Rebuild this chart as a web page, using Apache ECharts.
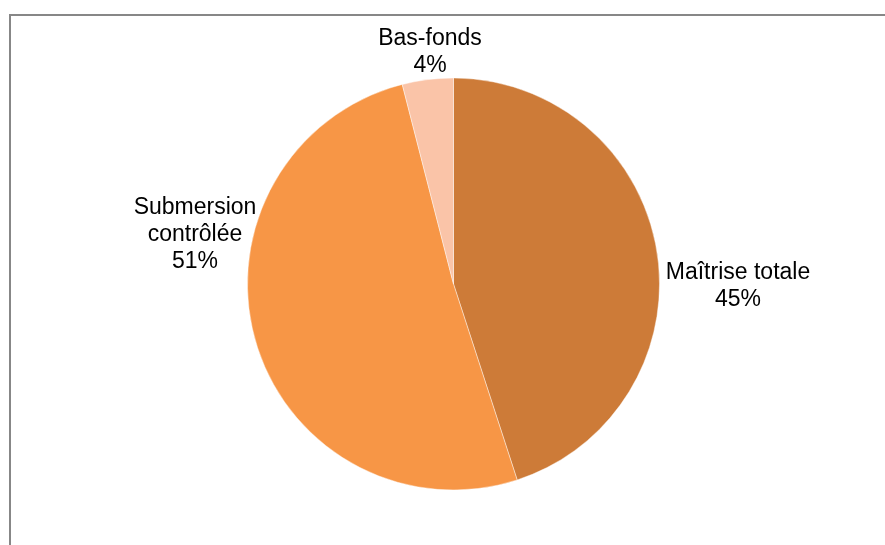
<!DOCTYPE html>
<html>
<head>
<meta charset="utf-8">
<script src="https://cdn.jsdelivr.net/npm/echarts@6/dist/echarts.min.js"></script>
<style>
  html, body { margin: 0; padding: 0; background: #fff; }
  #chart { width: 885px; height: 545px; }
</style>
</head>
<body>
<div id="chart"></div>
<script>
const categories = ['Maîtrise totale', 'Submersion\ncontrôlée', 'Bas-fonds']
const values = [45, 51, 4]
const colors = ['#CD7B38', '#F79646', '#FAC4A8']

// label centres, Excel-style placement
const labelSpots = [[738, 286], [195, 235], [430, 52]]

const chart = echarts.init(document.getElementById('chart'), null, { renderer: 'canvas' })

chart.setOption({
  animation: false,
  graphic: [{
    type: 'rect',
    shape: { x: 10, y: 15, width: 1000, height: 700 },
    style: { fill: 'none', stroke: '#878787', lineWidth: 2 },
    z: -1,
  }],
  series: [{
    type: 'pie',
    center: [453.5, 284],
    radius: 206,
    startAngle: 90,
    clockwise: true,
    data: categories.map((c, i) => ({
      name: c,
      value: values[i],
      itemStyle: { color: colors[i] },
    })),
    itemStyle: { borderColor: 'rgba(255,255,255,0.7)', borderWidth: 0.6 },
    label: {
      show: true,
      position: 'outside',
      formatter: p => `${p.name}\n${p.value}%`,
      fontFamily: 'Liberation Sans, Arial, sans-serif',
      fontSize: 23,
      lineHeight: 27,
      color: '#000',
      align: 'center',
    },
    labelLine: { show: false },
    labelLayout: p => ({
      x: labelSpots[p.dataIndex][0],
      y: labelSpots[p.dataIndex][1],
      align: 'center',
      verticalAlign: 'middle',
    }),
    emphasis: { disabled: true },
  }],
})
</script>
</body>
</html>
